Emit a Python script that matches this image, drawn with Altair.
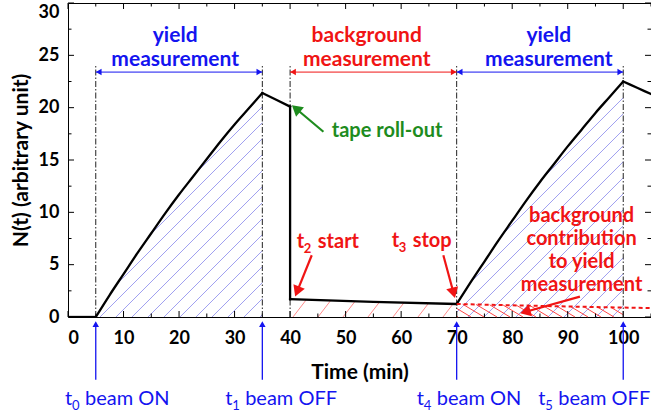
import math
import numpy as np
import pandas as pd
import altair as alt

FONT = "Lato"
BLUE = "#1414f0"
RED = "#f01414"
GREEN = "#1e8c1e"
HATCH_BLUE = "#a0a0f0"
HATCH_RED = "#ff8c8c"
HATCH_RED_DARK = "#ff4646"

# plot area (pixels) and data domains
W, H = 583, 314
T_DOMAIN = [0, 105]
N_DOMAIN = [0, 30]
PX_T = W / (T_DOMAIN[1] - T_DOMAIN[0])
PX_N = H / (N_DOMAIN[1] - N_DOMAIN[0])

# ---- activity N(t), piece by piece ----
idle_t = [0, 5]
idle_n = [0, 0]
build1_t = [5, 7.5, 10, 12.5, 15, 17.5, 20, 22.5, 25, 27.5, 30, 32.5, 35]
build1_n = [0, 2.1, 4.1, 6.1, 8.0, 9.9, 11.7, 13.4, 15.1, 16.8, 18.4, 19.9, 21.4]
decay1_t = [35, 37.5, 40]
decay1_n = [21.4, 20.75, 20.1]
bkg_t = [40, 55, 70]
bkg_n = [1.7, 1.45, 1.24]
build2_t = [70, 72.5, 75, 77.5, 80, 82.5, 85, 87.5, 90, 92.5, 95, 97.5, 100]
build2_n = [1.24, 3.3, 5.3, 7.3, 9.2, 11.1, 12.9, 14.6, 16.3, 17.9, 19.5, 21.0, 22.5]
decay2_t = [100, 102.5, 105]
decay2_n = [22.5, 21.9, 21.3]
# background carried under the second yield measurement
bkg_extra_t = [70, 87.5, 105]
bkg_extra_n = [1.24, 1.03, 0.85]

# ---- phase boundaries and labels ----
phase_t = [5, 35, 40, 70, 100]
phase_top = 24.1
span_start = [5, 40, 70]
span_end = [35, 70, 100]
span_level = 23.4
span_color = [BLUE, RED, BLUE]
span_text = ["yield\nmeasurement", "background\nmeasurement", "yield\nmeasurement"]
span_text_t = [19.3, 53.8, 86.6]
span_text_n = 26.3

beam_t = [5, 35, 70, 100]
beam_sub = ["0", "1", "4", "5"]
beam_text = ["beam ON", "beam OFF", "beam ON", "beam OFF"]
beam_label_t = [-0.55, 28.3, 62.8, 84.7]
beam_label_n = -8.4

# annotation arrows: tail -> tip
note_tail_t = [46.0, 43.9, 67.6, 92.2]
note_tail_n = [17.7, 5.9, 5.9, 1.95]
note_tip_t = [40.3, 40.9, 69.7, 81.4]
note_tip_n = [20.25, 1.95, 1.8, 0.35]
note_color = [GREEN, RED, RED, RED]

# axis ticks
x_major = list(range(0, 101, 10))
x_minor = list(range(5, 106, 10))
y_major = list(range(0, 31, 5))
y_minor = [2.5, 7.5, 12.5, 17.5, 22.5, 27.5]


def hatch(lo_t, lo_n, hi_t, hi_n, t_a, t_b, slope, step):
    """Parallel hatch segments (pixel slope, pixel spacing) clipped to a region."""
    ts = np.linspace(t_a, t_b, 3000)
    x = ts * PX_T
    lo = np.interp(ts, lo_t, lo_n) * PX_N
    hi = np.interp(ts, hi_t, hi_n) * PX_N
    c_all = np.concatenate([lo - slope * x, hi - slope * x])
    dc = abs(slope) * step
    c0 = math.floor(c_all.min() / dc) * dc
    segs = []
    for c in np.arange(c0, c_all.max() + dc, dc):
        y = slope * x + c
        inside = np.where((y >= lo - 1e-6) & (y <= hi + 1e-6))[0]
        if len(inside) < 2:
            continue
        i, j = inside[0], inside[-1]
        segs.append((ts[i], y[i] / PX_N, ts[j], y[j] / PX_N))
    return pd.DataFrame(segs, columns=["t1", "n1", "t2", "n2"])


def arrows(tail_t, tail_n, tip_t, tip_n, colors, head_px):
    """Shaft segments and rotated triangle heads for straight arrows."""
    shafts, heads = [], []
    for a, b, c, d, col in zip(tail_t, tail_n, tip_t, tip_n, colors):
        dx, dy = (c - a) * PX_T, (d - b) * PX_N
        length = math.hypot(dx, dy)
        ux, uy = dx / length, dy / length
        base_t = c - ux * head_px * 0.8 / PX_T
        base_n = d - uy * head_px * 0.8 / PX_N
        shafts.append(dict(t1=a, n1=b, t2=base_t, n2=base_n, color=col))
        heads.append(dict(t=c - ux * head_px / 2 / PX_T, n=d - uy * head_px / 2 / PX_N,
                          angle=math.degrees(math.atan2(dx, dy)) % 360, color=col))
    return pd.DataFrame(shafts), pd.DataFrame(heads)


AXIS_STYLE = dict(labelFont=FONT, labelFontSize=18, labelFontWeight="bold",
                  labelColor="black", titleFont=FONT, titleFontSize=21,
                  titleFontWeight="bold", titleColor="black", grid=False,
                  ticks=False, domain=False)
xs = alt.Scale(domain=T_DOMAIN, nice=False, zero=False)
ys = alt.Scale(domain=N_DOMAIN, nice=False, zero=False)
AX_X = alt.Axis(values=x_major, title="Time (min)", labelPadding=12, titlePadding=14,
                **AXIS_STYLE)
AX_Y = alt.Axis(values=y_major, title="N(t) (arbitrary unit)", labelPadding=9,
                titlePadding=7,
                labelBaseline=alt.ExprRef(expr="datum.value == 30 ? 'top' : 'middle'"),
                **AXIS_STYLE)


def X(f="t"):
    return alt.X(f, type="quantitative", scale=xs, axis=AX_X)


def Y(f="n"):
    return alt.Y(f, type="quantitative", scale=ys, axis=AX_Y)


def segments(df, color, width, dash=None, use_field=False):
    kw = dict(strokeWidth=width)
    if dash:
        kw["strokeDash"] = dash
    if not use_field:
        kw["color"] = color
    ch = alt.Chart(df).mark_rule(**kw).encode(
        x=X("t1"), y=Y("n1"),
        x2=alt.X2("t2"), y2=alt.Y2("n2"))
    if use_field:
        ch = ch.encode(color=alt.Color("color:N", scale=None))
    return ch


def heads(df, size):
    return alt.Chart(df).mark_point(shape="triangle-up", filled=True, opacity=1,
                                    size=size, strokeWidth=0).encode(
        x=X(), y=Y(), angle=alt.Angle("angle:Q", scale=None),
        color=alt.Color("color:N", scale=None))


layers = []

# hatched areas
zero2 = lambda a, b: ([a, b], [0, 0])
lo = zero2(5, 35)
layers.append(segments(hatch(*lo, build1_t, build1_n, 5, 35, 1.0, 16), HATCH_BLUE, 1))
lo = zero2(70, 100)
layers.append(segments(hatch(*lo, build2_t, build2_n, 70, 100, 1.0, 16), HATCH_BLUE, 1))
lo = zero2(40, 70)
layers.append(segments(hatch(*lo, bkg_t, bkg_n, 40, 70, 1.3, 25), HATCH_RED, 1))
lo = zero2(70, 100)
layers.append(segments(hatch(*lo, bkg_extra_t, bkg_extra_n, 70, 100, -0.6, 13), HATCH_RED_DARK, 1))

# axis frame ticks, drawn inward on all four sides
tick_df = lambda v: pd.DataFrame({"v": v})
for vals, L in ((x_major, 6), (x_minor, 3.5)):
    layers.append(alt.Chart(tick_df(vals)).mark_rule(color="black", strokeWidth=1).encode(
        x=X("v"), y=alt.value(H), y2=alt.value(H - L)))
    layers.append(alt.Chart(tick_df(vals)).mark_rule(color="black", strokeWidth=1).encode(
        x=X("v"), y=alt.value(0), y2=alt.value(L)))
for vals, L in ((y_major, 6), (y_minor, 3.5)):
    layers.append(alt.Chart(tick_df(vals)).mark_rule(color="black", strokeWidth=1).encode(
        y=Y("v"), x=alt.value(0), x2=alt.value(L)))
    layers.append(alt.Chart(tick_df(vals)).mark_rule(color="black", strokeWidth=1).encode(
        y=Y("v"), x=alt.value(W), x2=alt.value(W - L)))

# phase boundaries (dash-dot)
phase_df = pd.DataFrame({"t": phase_t, "n": 0.0, "n2": phase_top})
layers.append(alt.Chart(phase_df).mark_rule(color="#222222", strokeWidth=1,
                                            strokeDash=[6, 2, 1.5, 2]).encode(
    x=X(), y=Y(), y2=alt.Y2("n2")))

# N(t) curve: smooth pieces plus the straight tape roll-out drop
pieces = [(idle_t, idle_n), (build1_t, build1_n), (decay1_t, decay1_n),
          ([decay1_t[-1], bkg_t[0]], [decay1_n[-1], bkg_n[0]]),
          (bkg_t, bkg_n), (build2_t, build2_n), (decay2_t, decay2_n)]
curve_rows = []
for k, (pt, pn) in enumerate(pieces):
    for j, (a, b) in enumerate(zip(pt, pn)):
        curve_rows.append(dict(t=a, n=b, piece=k, j=j))
curve_df = pd.DataFrame(curve_rows)
layers.append(alt.Chart(curve_df).mark_line(color="black", strokeWidth=2.3, clip=True,
                                            interpolate="monotone",
                                            strokeCap="square").encode(
    x=X(), y=Y(), detail="piece:N", order="j:Q"))

# background extrapolation (dashed)
bx_df = pd.DataFrame({"t": bkg_extra_t, "n": bkg_extra_n})
layers.append(alt.Chart(bx_df).mark_line(color=RED, strokeWidth=2, strokeDash=[4, 3],
                                         clip=True).encode(x=X(), y=Y()))

# measurement span arrows at the top
sp_shaft = pd.DataFrame({"t1": span_start, "n1": span_level, "t2": span_end,
                         "n2": span_level, "color": span_color})
layers.append(segments(sp_shaft, None, 1, use_field=True))
sp_heads_l = arrows(span_end, [span_level] * 3, span_start, [span_level] * 3, span_color, 6)[1]
sp_heads_r = arrows(span_start, [span_level] * 3, span_end, [span_level] * 3, span_color, 6)[1]
layers.append(heads(pd.concat([sp_heads_l, sp_heads_r]), 42))

span_df = pd.DataFrame({"t": span_text_t, "n": span_text_n, "label": span_text,
                        "color": span_color})
layers.append(alt.Chart(span_df).mark_text(font=FONT, fontSize=21, fontWeight="bold",
                                           lineBreak="\n", lineHeight=24, align="center",
                                           baseline="alphabetic").encode(
    x=X(), y=Y(), text="label:N", color=alt.Color("color:N", scale=None)))

# beam ON / OFF markers below the axis
bs, bh = arrows(beam_t, [-6.0] * 4, beam_t, [-0.35] * 4, [BLUE] * 4, 7)
layers.append(segments(bs, None, 1.3, use_field=True))
layers.append(heads(bh, 42))
beam_df = pd.DataFrame({"t": beam_label_t, "n": beam_label_n, "sub": beam_sub,
                        "txt": beam_text})
txt = dict(font=FONT, color=BLUE, align="left", baseline="alphabetic")
layers.append(alt.Chart(beam_df).mark_text(fontSize=20, **txt).encode(
    x=X(), y=Y(), text=alt.value("t")))
layers.append(alt.Chart(beam_df).mark_text(fontSize=13, dx=7, dy=5, **txt).encode(
    x=X(), y=Y(), text="sub:N"))
layers.append(alt.Chart(beam_df).mark_text(fontSize=20, dx=20, **txt).encode(
    x=X(), y=Y(), text="txt:N"))

# annotation arrows and notes
ns, nh = arrows(note_tail_t, note_tail_n, note_tip_t, note_tip_n, note_color, 11)
layers.append(segments(ns, None, 2.2, use_field=True))
layers.append(heads(nh, 150))

layers.append(alt.Chart(pd.DataFrame({"t": [47.5], "n": [17.2]})).mark_text(
    font=FONT, fontSize=20, fontWeight="bold", color=GREEN, align="left",
    baseline="alphabetic").encode(x=X(), y=Y(), text=alt.value("tape roll-out")))

stop_df = pd.DataFrame({"t": [41.2, 58.3], "n": [6.6, 6.65], "sub": ["2", "3"],
                        "txt": ["start", "stop"]})
rtxt = dict(font=FONT, color=RED, fontWeight="bold", align="left", baseline="alphabetic")
layers.append(alt.Chart(stop_df).mark_text(fontSize=20, **rtxt).encode(
    x=X(), y=Y(), text=alt.value("t")))
layers.append(alt.Chart(stop_df).mark_text(fontSize=13, dx=7, dy=5, **rtxt).encode(
    x=X(), y=Y(), text="sub:N"))
layers.append(alt.Chart(stop_df).mark_text(fontSize=20, dx=21, **rtxt).encode(
    x=X(), y=Y(), text="txt:N"))

layers.append(alt.Chart(pd.DataFrame({"t": [92.5], "n": [9.1]})).mark_text(
    font=FONT, fontSize=20, fontWeight="bold", color=RED, align="center",
    baseline="alphabetic", lineBreak="\n", lineHeight=23).encode(
    x=X(), y=Y(),
    text=alt.value("background\ncontribution\nto yield\nmeasurement")))

chart = alt.layer(*layers).properties(
    width=W, height=H,
    background="white",
    autosize=alt.AutoSizeParams(type="none"),
    padding={"left": 68, "top": 3, "right": 0, "bottom": 98},
).configure_view(stroke="black", strokeWidth=1)

chart.save("out.html", embed_options={"renderer": "svg", "actions": False})
